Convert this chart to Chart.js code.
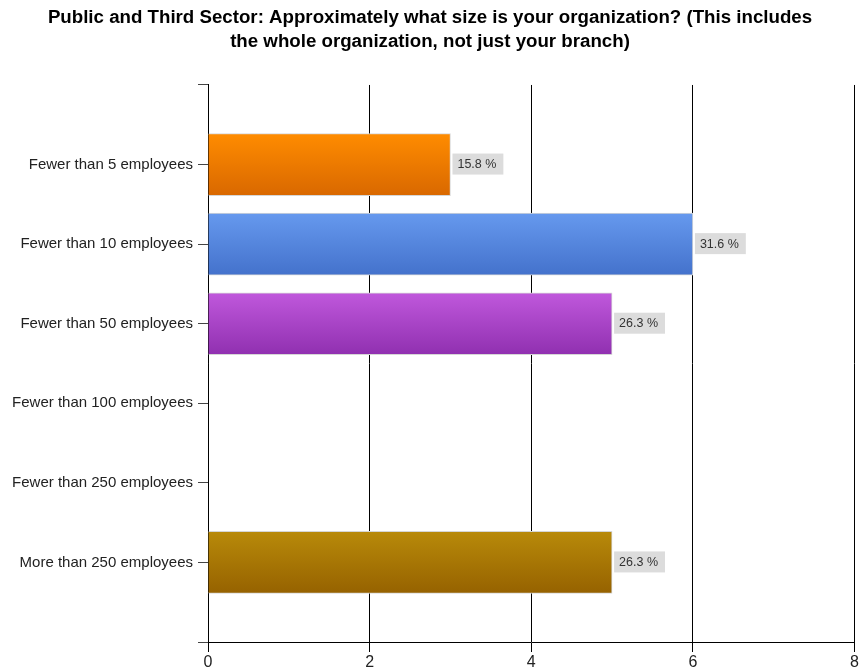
<!DOCTYPE html>
<html>
<head>
<meta charset="utf-8">
<script src="https://cdn.jsdelivr.net/npm/chart.js@4.4.1/dist/chart.umd.min.js"></script>
<style>
  html, body { margin: 0; padding: 0; background: #fff; }
  #wrap { width: 860px; height: 670px; }
</style>
</head>
<body>
<div id="wrap"><canvas id="sizeChart" width="860" height="670"></canvas></div>
<script>
// survey answers (counts) and the share each one makes of the 19 responses
const categories = [
  'Fewer than 5 employees',
  'Fewer than 10 employees',
  'Fewer than 50 employees',
  'Fewer than 100 employees',
  'Fewer than 250 employees',
  'More than 250 employees'
];
const counts = [3, 6, 5, 0, 0, 5];
const percentLabels = ['15.8 %', '31.6 %', '26.3 %', '', '', '26.3 %'];
const xTicks = [0, 2, 4, 6, 8];
const topColors = ['#ff8c00', '#6699ee', '#c058dc', '#b88a0a'];
const bottomColors = ['#d96800', '#4472cc', '#9030b0', '#966200'];
const colorIndex = [0, 1, 2, -1, -1, 3];

const FONT = "'Liberation Sans', Arial, sans-serif";
const BAR_H = 62;

// blank slot above and below so the bars sit one band in from the edges
const yLabels = [' '].concat(categories).concat(['  ']);
const barData = [null].concat(counts).concat([null]);

function barGradient(ctx) {
  const chart = ctx.chart;
  const i = ctx.dataIndex - 1;
  if (i < 0 || i >= counts.length || colorIndex[i] < 0) return 'transparent';
  if (!chart.chartArea) return topColors[colorIndex[i]];
  const yc = chart.scales.y.getPixelForValue(ctx.dataIndex);
  const g = chart.ctx.createLinearGradient(0, yc - BAR_H / 2, 0, yc + BAR_H / 2);
  g.addColorStop(0, topColors[colorIndex[i]]);
  g.addColorStop(1, bottomColors[colorIndex[i]]);
  return g;
}

const valueBoxes = {
  id: 'valueBoxes',
  afterDatasetsDraw(chart) {
    const ctx = chart.ctx;
    const meta = chart.getDatasetMeta(0);
    ctx.save();
    ctx.font = '12.5px ' + FONT;
    ctx.textBaseline = 'middle';
    meta.data.forEach((bar, idx) => {
      const i = idx - 1;
      if (i < 0 || i >= counts.length || !counts[i]) return;
      const txt = percentLabels[i];
      const w = ctx.measureText(txt).width + 12;
      const x0 = bar.x + 2;
      ctx.fillStyle = '#dcdcdc';
      ctx.fillRect(x0, bar.y - 11, w, 21);
      ctx.fillStyle = '#333';
      ctx.fillText(txt, x0 + 5, bar.y);
    });
    ctx.restore();
  }
};

new Chart(document.getElementById('sizeChart'), {
  type: 'bar',
  data: {
    labels: yLabels,
    datasets: [{
      data: barData,
      backgroundColor: barGradient,
      borderColor: '#d6d6d6',
      borderWidth: ctx => (barData[ctx.dataIndex] ? 1 : 0),
      borderSkipped: 'left',
      barThickness: BAR_H
    }]
  },
  options: {
    indexAxis: 'y',
    responsive: false,
    animation: false,
    layout: { padding: { left: 0, right: 0, top: 0, bottom: 0 } },
    plugins: {
      legend: { display: false },
      tooltip: { enabled: false },
      title: {
        display: true,
        text: [
          'Public and Third Sector: Approximately what size is your organization? (This includes',
          'the whole organization, not just your branch)'
        ],
        color: '#000',
        font: { family: FONT, size: 18.7, weight: 'bold', lineHeight: 1.283 },
        padding: { top: 6, bottom: 31 }
      }
    },
    scales: {
      x: {
        min: 0,
        max: 8,
        afterBuildTicks: s => { s.ticks = xTicks.map(v => ({ value: v })); },
        afterFit: s => { s.height = 28; },
        grid: { color: '#000', lineWidth: 1, tickLength: 10, drawOnChartArea: true },
        border: { display: true, color: '#000', width: 1 },
        ticks: { color: '#222', font: { family: FONT, size: 16 }, padding: 1 }
      },
      y: {
        offset: false,
        afterFit: s => { s.width = 208; },
        grid: { drawOnChartArea: false, offset: false, color: '#444', tickLength: 10 },
        border: { display: true, color: '#000', width: 1 },
        ticks: { color: '#222', font: { family: FONT, size: 15 }, padding: 5, autoSkip: false }
      }
    }
  },
  plugins: [valueBoxes]
});
</script>
</body>
</html>
